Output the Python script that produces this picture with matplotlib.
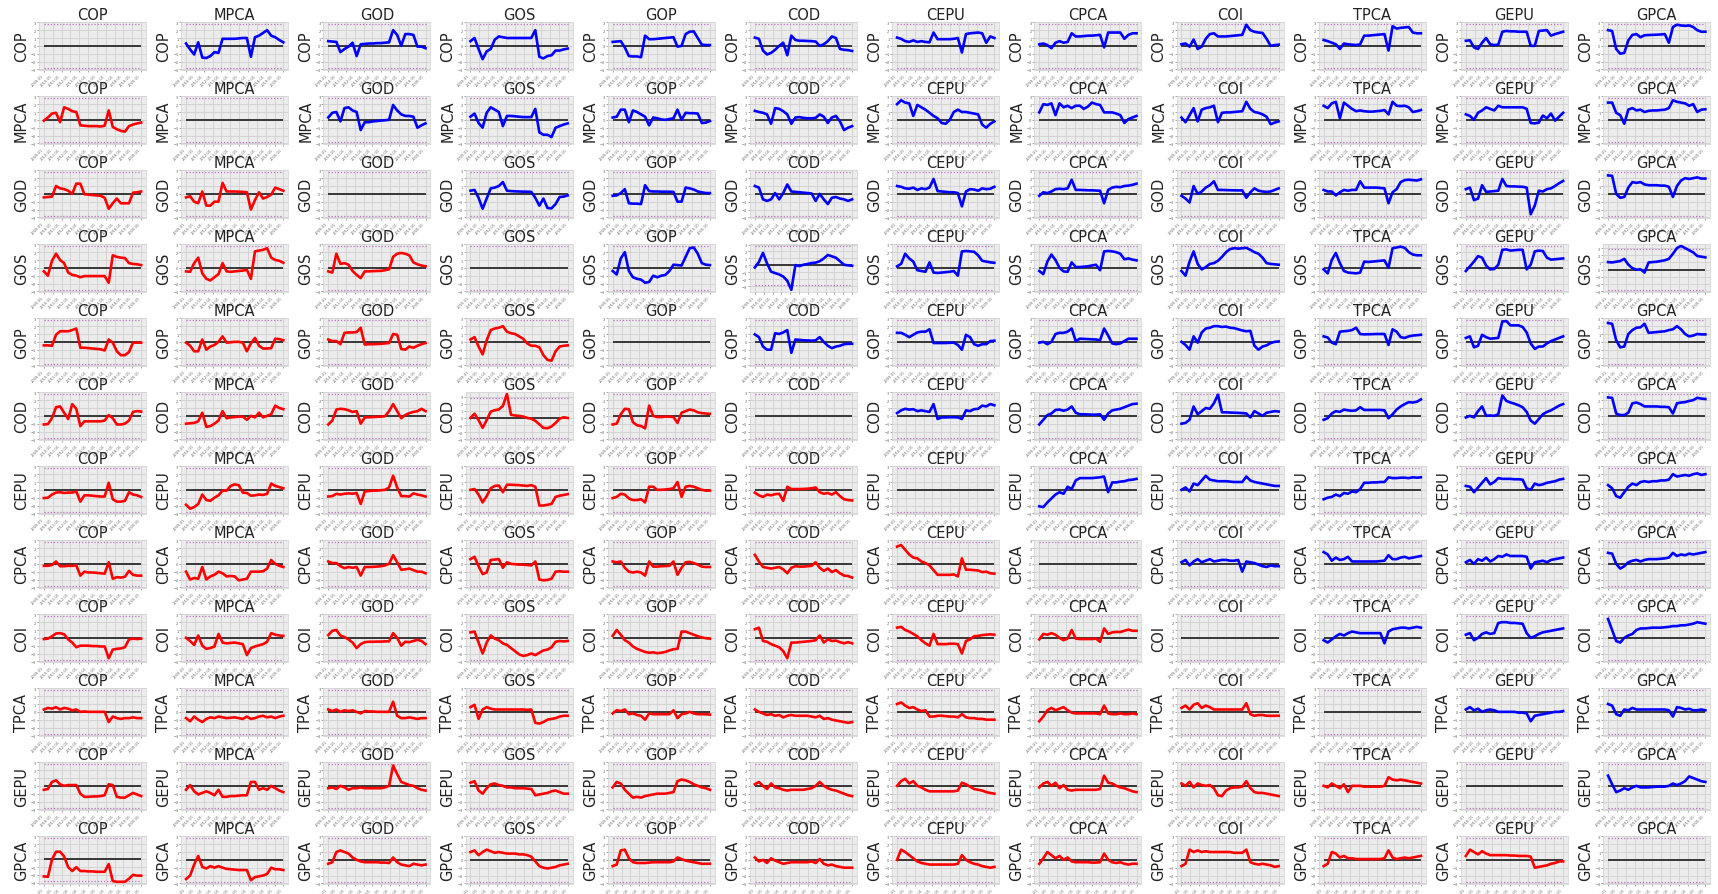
import numpy as np
import pandas as pd
import matplotlib
matplotlib.use("Agg")
import matplotlib.pyplot as plt
import matplotlib.dates as mdates
from matplotlib.ticker import MultipleLocator

names = ['COP', 'MPCA', 'GOD', 'GOS', 'GOP', 'COD', 'CEPU', 'CPCA', 'COI', 'TPCA', 'GEPU', 'GPCA']
dates = pd.date_range('2009-01-01', '2019-12-31', periods=25)
band = 2.8

# one list per row variable, one series per column variable (None on the diagonal)
cop_row = [
    None,
    [0.3,-0.45,-1.1,0.45,-1.5,-1.55,-1.3,-0.8,-0.9,0.9,0.9,0.9,0.9,0.95,1.0,1.0,-1.4,1.1,1.3,1.65,2.0,1.3,1.1,0.75,0.45],
    [0.6,0.55,0.5,-0.8,-0.4,-0.1,0.4,-1.3,0.2,0.25,0.3,0.3,0.35,0.35,0.4,0.45,2.0,1.4,0.0,1.5,1.5,1.4,-0.1,-0.1,-0.3],
    [0.6,1.0,-0.4,-1.7,-0.7,-0.4,0.8,1.2,1.1,1.0,1.0,1.0,1.0,1.0,1.0,1.0,2.0,-1.4,-1.6,-1.3,-1.2,-0.6,-0.6,-0.45,-0.35],
    [0.5,0.55,0.6,-0.2,-1.3,-1.35,-1.35,-1.45,1.3,0.85,0.85,0.9,0.95,1.0,1.05,1.1,-0.1,0.0,1.5,1.8,1.85,1.0,0.15,0.1,0.1],
    [1.05,0.9,-0.6,-1.1,-0.9,-0.5,0.0,0.4,-1.2,1.3,0.75,0.65,0.65,0.62,0.6,0.55,0.0,0.2,0.6,1.2,1.0,-0.4,-0.5,-0.55,-0.65],
    [1.05,0.9,0.6,0.5,0.7,0.5,0.6,0.5,0.45,1.7,0.85,0.85,0.85,0.85,0.9,1.0,-0.85,1.5,1.6,1.65,1.7,1.6,0.4,1.2,1.0],
    [0.2,0.3,0.1,-0.3,0.4,0.6,0.4,0.5,1.6,1.2,1.2,1.25,1.3,1.3,1.35,1.4,-0.2,1.7,1.7,1.7,1.7,0.9,1.4,1.6,1.6],
    [0.2,0.3,-0.1,0.8,-0.4,-0.1,0.9,1.5,1.6,1.2,1.2,1.2,1.25,1.3,1.35,1.4,2.7,2.0,1.8,1.7,1.65,0.9,0.0,0.1,0.15],
    [0.75,0.6,0.4,0.2,-0.4,0.3,0.2,0.15,0.1,0.2,1.3,1.3,1.35,1.4,1.45,1.5,-0.6,2.5,2.2,2.3,2.35,2.4,1.7,1.6,1.6],
    [0.65,0.7,-0.2,-0.4,0.4,1.0,0.2,0.1,0.15,1.8,1.9,1.85,1.85,1.8,1.8,1.8,0.0,0.0,1.9,1.95,2.0,1.3,1.5,1.65,1.8],
    [2.0,1.9,-0.4,-1.0,-0.9,0.7,1.4,1.5,1.1,1.35,1.38,1.4,1.42,1.45,1.5,0.4,2.4,2.7,2.6,2.55,2.6,2.4,2.0,1.8,1.8],
]
mpca_row = [
    [-0.1,0.3,0.8,0.9,-0.3,1.6,1.4,1.1,1.0,-0.7,-0.75,-0.8,-0.8,-0.8,-0.85,-0.75,1.2,-0.9,-1.2,-1.4,-1.5,-0.8,-0.6,-0.45,-0.35],
    None,
    [0.3,0.9,1.0,-0.2,1.5,1.6,1.2,1.0,-1.3,-0.3,-0.3,-0.2,-0.15,-0.1,-0.05,0.0,1.9,1.2,0.7,0.5,0.5,0.4,-1.0,-0.7,-0.45],
    [0.4,0.8,-0.4,-1.0,0.9,1.6,1.3,1.0,-0.8,0.5,0.5,0.45,0.4,0.35,0.35,0.35,1.4,-1.6,-1.9,-1.9,-2.2,-1.0,-0.8,-0.6,-0.45],
    [0.3,0.4,1.3,1.3,-0.3,1.2,1.0,0.7,0.4,-0.7,0.3,0.2,0.05,0.0,0.1,0.2,1.3,0.0,0.9,0.85,0.85,0.8,-0.4,-0.35,-0.15],
    [1.15,1.0,0.9,0.7,-0.5,1.5,1.4,1.1,0.7,-0.5,0.3,0.35,0.25,0.2,0.2,0.25,0.7,0.4,-0.4,0.3,0.5,-0.2,-1.3,-1.0,-0.8],
    [2.0,2.5,2.2,2.1,0.5,1.9,1.6,1.3,0.9,0.5,0.2,-0.4,-0.5,0.0,1.0,1.3,1.0,1.0,0.9,0.8,0.7,-0.6,-1.0,-0.5,-0.2],
    [0.95,2.0,1.9,2.1,0.6,2.1,1.6,1.8,1.5,1.8,1.8,1.4,1.7,2.2,2.0,1.9,0.95,0.95,0.95,0.8,0.6,-0.4,0.1,0.3,0.5],
    [0.3,-0.3,0.6,1.5,-0.2,1.3,1.5,1.6,1.8,-0.3,0.9,0.95,0.95,1.0,1.05,1.1,2.3,1.4,1.0,0.9,0.7,0.4,-0.55,-0.35,-0.2],
    [1.8,1.5,2.1,2.3,0.2,2.2,1.8,1.4,1.1,1.2,1.1,1.05,1.05,1.1,1.15,1.25,0.7,2.3,1.8,1.75,1.8,1.6,1.0,1.1,1.25],
    [0.7,0.5,0.0,0.9,1.2,1.6,1.4,1.2,1.8,1.6,1.6,1.6,1.6,1.6,1.6,1.4,-0.4,-0.45,-0.35,0.55,0.2,0.8,-0.1,0.4,0.9],
    [2.2,2.2,0.9,0.6,-0.5,1.3,1.5,1.2,1.3,1.0,1.15,1.2,1.2,1.25,1.3,1.5,2.5,2.3,2.2,2.1,1.8,2.0,1.0,1.3,1.35],
]
god_row = [
    [-0.45,-0.4,-0.35,1.0,0.7,0.6,0.4,0.0,1.3,1.3,-0.05,-0.1,-0.15,-0.2,-0.25,-0.5,-1.9,-1.2,-0.6,-1.2,-1.2,-1.2,0.15,0.2,0.3],
    [-0.45,-0.3,-1.0,-1.2,0.3,-1.5,-1.5,-1.0,-1.0,1.4,0.3,0.3,0.3,0.28,0.25,0.2,-2.0,-0.8,0.2,-0.6,-0.4,-0.1,0.8,0.6,0.4],
    None,
    [0.4,0.5,-0.5,-1.9,-0.6,0.7,0.8,1.0,1.5,0.4,0.35,0.32,0.3,0.28,0.27,0.25,-0.5,-1.5,-0.6,-1.8,-1.85,-1.3,-0.4,-0.35,-0.2],
    [-0.25,-0.2,0.1,0.6,-1.2,-1.25,-1.25,-1.3,1.1,0.35,0.3,0.3,0.28,0.27,0.27,0.25,-1.0,-1.0,0.8,0.7,0.55,0.3,0.2,0.1,0.1],
    [1.0,0.8,-0.7,-0.9,-0.7,0.1,-0.7,0.1,1.2,0.3,0.25,0.2,0.15,0.1,0.05,-0.9,0.0,-0.7,-1.3,-0.5,-0.4,-0.6,-0.7,-0.9,-0.7],
    [1.0,0.9,0.7,0.65,0.8,0.5,0.7,0.6,0.8,1.9,0.35,0.3,0.25,0.2,0.2,0.1,-1.6,0.3,0.6,0.55,0.4,0.7,0.6,0.65,0.9],
    [-0.25,0.2,0.1,0.3,0.6,0.65,0.6,0.7,1.8,0.5,0.5,0.48,0.45,0.45,0.42,0.4,-1.2,0.5,0.8,0.9,0.85,1.0,1.05,1.15,1.3],
    [-0.25,-0.6,-1.1,1.0,0.0,0.3,0.8,1.1,1.6,0.5,0.5,0.48,0.46,0.45,0.44,0.44,-0.5,0.2,0.7,0.4,0.3,0.25,0.3,0.5,0.7],
    [0.5,0.3,0.3,-0.2,0.2,0.5,0.4,0.5,0.5,1.6,0.8,0.8,0.8,0.8,0.75,0.7,-1.2,0.2,0.6,1.5,1.75,1.8,1.75,1.7,1.85],
    [0.6,0.8,-0.8,-0.6,1.1,0.25,0.3,0.35,0.4,1.9,1.0,0.95,0.95,0.92,0.9,0.8,-2.6,-1.5,0.4,0.3,0.6,0.7,1.0,1.35,1.65],
    [2.35,2.3,0.0,-0.5,-0.4,0.8,1.5,1.4,1.5,1.2,1.1,1.1,1.1,1.05,1.05,0.9,-0.4,1.0,1.7,2.0,1.9,2.0,2.1,1.95,1.95],
]
gos_row = [
    [-0.45,-1.0,0.9,1.8,1.0,0.6,-0.6,-0.9,-1.0,-1.2,-1.05,-1.05,-1.05,-1.05,-1.05,-1.05,-1.9,1.6,1.4,1.3,1.25,0.6,0.5,0.45,0.35],
    [-0.45,-0.5,0.6,1.3,-0.7,-1.4,-1.6,-1.2,-0.8,0.6,-0.45,-0.5,-0.45,-0.4,-0.35,-0.25,-1.4,2.1,2.2,2.3,2.5,1.3,1.0,0.9,0.65],
    [-0.45,-0.6,1.8,0.5,0.6,0.4,-0.4,-0.9,-1.3,-0.45,-0.45,-0.42,-0.4,-0.38,-0.3,-0.2,1.4,1.8,1.9,1.8,1.6,0.7,0.45,0.3,0.2],
    None,
    [-0.4,-0.85,1.2,2.0,-0.4,-1.2,-1.4,-1.5,-1.9,-1.8,-1.0,-1.2,-1.0,-0.9,-0.4,0.4,0.35,0.3,1.4,2.5,2.6,1.8,0.6,0.4,0.35],
    [-0.3,0.5,1.8,0.3,-0.9,-1.1,-1.3,-1.6,-2.2,-3.5,0.05,-0.1,0.1,0.2,0.35,0.4,0.6,1.0,1.5,1.3,1.1,0.6,0.1,0.0,-0.05],
    [0.2,0.5,1.8,1.2,0.8,-0.3,-0.4,-0.5,0.7,-0.6,-0.65,-0.6,-0.55,-0.5,-0.4,-1.0,2.1,2.15,2.1,2.05,1.6,0.9,0.8,0.7,0.65],
    [-0.4,-0.8,0.8,1.7,1.0,0.0,-0.45,-0.5,0.7,0.1,0.1,0.15,0.2,0.3,0.4,-0.3,2.1,2.15,2.1,2.0,1.8,1.1,1.2,1.05,0.95],
    [-0.4,-1.0,0.8,2.1,0.5,-0.2,0.1,0.5,0.6,0.9,1.4,2.0,2.4,2.5,2.45,2.5,2.55,2.3,2.0,1.8,1.3,0.6,0.5,0.45,0.4],
    [-0.2,-0.7,1.0,1.9,0.6,-0.4,-0.6,-0.65,-0.7,-0.6,0.8,0.75,0.8,0.85,0.9,0.95,0.0,2.5,2.6,2.7,2.55,2.0,1.7,1.6,1.6],
    [-0.4,0.2,0.8,1.5,1.3,0.3,-0.2,-0.15,0.4,2.3,2.35,2.2,2.25,2.3,2.3,-0.2,0.4,2.1,2.2,2.15,1.3,1.05,1.1,1.15,1.2],
    [1.05,1.0,1.1,1.2,1.5,0.7,0.2,0.0,0.05,-0.4,1.0,1.05,1.1,1.2,1.3,1.5,2.2,3.0,3.3,3.0,2.7,2.4,1.9,1.8,1.7],
]
gop_row = [
    [-0.45,-0.45,-0.5,0.9,1.35,1.35,1.35,1.5,1.7,-0.75,-0.75,-0.8,-0.85,-0.9,-0.95,-1.1,0.3,-0.1,-1.2,-1.7,-1.7,-1.3,-0.1,-0.1,-0.1],
    [-0.1,-0.5,-1.2,-1.2,0.3,-1.0,-0.6,-0.4,0.0,0.7,-0.1,-0.05,0.0,0.0,-0.1,-1.2,-0.2,0.5,-0.5,-0.85,-0.85,-0.8,0.4,0.35,0.2],
    [0.3,0.1,0.1,-0.3,1.15,1.2,1.2,1.25,1.8,-0.35,-0.3,-0.3,-0.28,-0.25,-0.2,-0.15,1.0,0.9,-0.9,-1.0,-0.6,-0.75,-0.5,-0.3,-0.15],
    [0.3,0.6,-0.6,-1.6,0.2,1.5,1.7,1.8,2.0,1.3,1.1,1.0,0.7,0.4,-0.2,-0.5,-0.5,-0.7,-1.7,-2.3,-2.4,-1.2,-0.6,-0.5,-0.45],
    None,
    [0.95,0.6,-0.6,-1.0,-1.0,1.1,1.0,1.2,1.5,-1.4,0.3,0.25,0.2,0.18,0.15,0.2,0.6,0.0,-0.5,-0.8,-0.6,-0.5,-0.3,-0.25,-0.25],
    [1.15,1.15,0.9,0.6,0.9,1.2,1.3,1.3,1.6,-0.15,-0.15,-0.15,-0.15,-0.12,-0.1,-0.4,-1.0,0.9,0.6,-0.3,-0.5,-0.3,-0.3,0.1,0.15],
    [-0.1,0.0,-0.3,0.0,1.0,1.15,1.15,1.3,1.7,0.1,0.4,0.38,0.35,0.32,0.3,0.2,1.7,0.8,-0.2,-0.3,-0.2,0.1,0.4,0.4,0.4],
    [0.0,-0.4,-1.0,0.7,-0.1,1.2,1.7,1.8,2.0,2.0,1.9,1.95,1.8,1.75,1.6,1.45,1.35,1.4,-0.5,-1.0,-0.6,-0.45,-0.15,0.0,0.05],
    [0.7,0.55,-0.1,-0.3,1.3,1.35,1.4,1.5,1.8,1.0,0.95,0.97,0.98,1.0,1.0,1.0,-0.4,1.6,1.3,0.6,0.5,0.7,0.8,0.85,0.9],
    [0.5,0.7,-0.7,-0.5,0.9,0.6,0.4,0.45,0.5,2.6,2.65,2.1,2.1,2.1,1.9,1.2,-0.2,-0.9,-0.6,-0.6,-0.2,0.1,0.3,0.5,0.7],
    [2.4,2.3,0.2,-0.7,-0.6,1.0,1.5,1.8,1.85,2.3,1.15,1.2,1.25,1.3,1.35,1.5,1.6,2.0,1.6,1.0,0.7,0.8,1.0,0.95,0.95],
]
cod_row = [
    [-1.1,-1.05,-0.3,1.1,1.2,0.4,-0.4,1.5,0.9,-1.3,-0.7,-0.7,-0.7,-0.7,-0.7,-0.6,0.1,-0.3,-1.1,-1.1,-1.0,-0.6,0.5,0.6,0.55],
    [-1.0,-0.95,-0.9,-0.7,0.4,-1.4,-1.3,-1.0,-0.6,0.6,-0.3,-0.2,-0.15,-0.1,-0.1,-0.5,0.0,-0.2,0.4,-0.2,0.0,0.2,1.3,1.0,0.85],
    [-1.1,-0.6,0.8,0.9,0.85,0.7,0.5,0.6,-1.0,-0.2,-0.18,-0.15,-0.12,-0.1,-0.05,0.6,1.5,0.6,-0.3,0.1,0.35,0.5,0.6,0.9,0.6],
    [0.0,0.6,-0.3,-1.4,-0.3,0.9,1.1,1.2,1.7,3.4,0.45,0.35,0.3,0.2,0.0,-0.1,-0.4,-0.9,-1.4,-1.45,-1.2,-0.7,-0.1,0.1,0.0],
    [-1.1,-1.0,0.2,0.9,0.85,-0.8,-1.2,-1.3,-1.6,1.3,0.0,-0.15,-0.15,-0.1,-0.1,-0.15,-0.9,0.4,0.6,0.8,0.7,0.45,0.35,0.3,0.25],
    None,
    [0.35,0.7,0.9,0.8,0.85,0.6,0.7,0.6,0.5,1.5,-0.4,-0.2,-0.2,-0.18,-0.18,-0.2,-0.4,0.7,0.6,0.85,0.9,1.3,1.2,1.5,1.35],
    [-1.1,-0.5,0.1,0.3,0.75,0.8,0.65,0.8,1.2,0.4,0.2,0.2,0.18,0.15,0.15,0.2,-0.5,0.3,0.7,0.8,0.9,1.1,1.3,1.5,1.55],
    [-1.0,-0.9,-0.5,1.2,0.2,0.6,1.0,0.9,1.6,2.7,0.45,0.45,0.42,0.4,0.38,0.35,0.3,-0.2,0.6,0.3,0.0,0.4,0.5,0.6,0.55],
    [-0.5,-0.3,0.3,0.6,0.5,0.8,0.7,0.65,0.7,1.1,0.75,0.75,0.75,0.75,0.75,0.7,-0.3,0.2,0.8,1.2,1.5,1.75,1.7,1.8,2.1],
    [-0.2,0.0,-0.2,0.6,1.2,0.0,0.05,0.0,0.2,2.6,1.9,1.7,1.55,1.35,1.1,0.5,-0.6,-1.0,-0.4,0.2,0.5,0.7,1.0,1.3,1.5],
    [2.35,2.3,0.3,0.1,0.1,0.4,1.6,1.7,1.5,1.2,1.2,1.2,1.2,1.15,1.15,1.1,0.3,1.6,1.7,1.75,1.9,2.0,2.3,2.2,2.15],
]
cepu_row = [
    [-1.05,-1.0,-0.6,-0.35,-0.3,-0.4,-0.35,-0.35,-0.2,-1.5,-0.7,-0.7,-0.75,-0.8,-0.85,-0.85,0.9,-1.2,-1.5,-1.5,-1.4,-0.3,-0.6,-0.7,-0.9],
    [-1.9,-2.4,-2.2,-1.8,-0.6,-1.3,-1.4,-1.0,-0.7,-0.1,-0.1,0.5,0.7,0.6,-0.35,-0.4,-0.75,-0.7,-0.6,-0.65,-0.5,0.8,0.5,0.35,0.2],
    [-0.85,-0.8,-0.5,-0.6,-0.5,-0.45,-0.5,-0.4,-1.8,-0.2,-0.15,-0.1,-0.1,-0.05,0.0,0.3,1.8,0.3,-0.8,-0.8,-0.85,-0.45,-0.6,-0.7,-0.85],
    [0.0,0.1,-0.6,-1.6,-0.8,0.2,0.5,0.55,-0.3,0.65,0.65,0.62,0.6,0.55,0.5,0.6,0.4,-2.0,-2.0,-1.9,-1.8,-0.9,-0.75,-0.65,-0.55],
    [-1.05,-0.9,-0.5,-0.6,-1.1,-1.3,-1.3,-1.2,-1.6,0.4,0.4,0.0,0.0,0.05,0.1,0.2,1.0,-0.9,0.4,0.5,0.4,0.2,0.0,-0.1,-0.1],
    [-0.35,-0.7,-0.9,-0.6,-0.7,-0.55,-0.5,-1.4,0.4,0.1,0.1,0.1,0.12,0.15,0.2,0.3,-0.3,-0.5,-0.4,-0.6,-0.3,-0.8,-1.2,-1.3,-1.35],
    None,
    [-2.1,-2.2,-1.6,-1.1,-0.6,-0.3,-0.5,0.4,0.1,1.2,1.5,1.5,1.5,1.5,1.55,1.6,1.7,-0.3,0.95,0.95,1.05,1.1,1.25,1.3,1.4],
    [0.0,0.3,-0.2,0.8,0.6,1.2,1.8,1.3,1.2,1.1,1.1,1.1,1.05,1.0,1.0,1.0,1.7,1.2,1.0,0.9,0.8,0.7,0.6,0.5,0.5],
    [-1.2,-1.0,-0.9,-0.6,-0.8,-0.4,-0.5,-0.2,-0.3,0.1,0.9,0.9,0.95,0.95,1.0,1.0,1.6,1.5,1.5,1.55,1.55,1.5,1.6,1.55,1.6],
    [0.5,0.4,-0.3,0.3,0.9,1.5,0.7,1.0,1.5,1.4,1.4,1.4,1.35,1.35,1.3,0.2,0.0,0.8,0.6,0.7,0.9,1.0,1.1,1.3,1.4],
    [0.6,0.2,-0.8,-1.0,-0.3,0.4,0.8,0.6,1.0,1.1,1.0,1.1,1.1,1.2,1.2,1.3,2.0,1.7,1.8,1.9,1.8,2.0,2.1,1.9,2.0],
]
cpca_row = [
    [-0.25,-0.25,-0.15,0.3,-0.3,-0.3,-0.25,-0.25,-0.2,-1.5,-1.0,-1.1,-1.1,-1.15,-1.2,-1.25,0.2,-1.9,-1.7,-1.75,-1.65,-0.9,-1.4,-1.5,-1.5],
    [-1.0,-2.0,-1.8,-1.9,-0.4,-2.0,-1.6,-1.4,-1.0,-1.2,-1.6,-1.55,-1.6,-2.1,-2.0,-1.9,-1.0,-1.0,-1.0,-0.95,-0.6,0.5,0.0,-0.25,-0.4],
    [0.3,0.1,0.1,-0.3,-0.55,-0.4,-0.5,-0.4,-1.5,-0.4,-0.4,-0.38,-0.35,-0.3,-0.2,0.0,1.1,0.2,-0.75,-0.7,-0.6,-0.8,-1.0,-1.0,-1.2],
    [0.6,0.9,-0.3,-1.3,-1.1,0.5,0.55,0.6,-0.5,0.2,0.0,-0.05,-0.1,-0.1,-0.15,-0.2,0.3,-2.0,-2.1,-2.05,-1.9,-1.0,-0.95,-1.0,-1.0],
    [0.3,0.2,0.3,-0.5,-1.0,-1.1,-1.0,-1.1,-1.5,0.3,-0.35,-0.35,-0.3,-0.28,-0.25,0.3,-1.4,-0.5,0.2,0.25,0.1,-0.1,-0.35,-0.4,-0.4],
    [1.15,0.3,-0.4,-0.5,-0.6,-0.5,-0.4,-0.7,-1.2,-0.5,-0.3,-0.35,-0.35,-0.3,-0.25,0.2,-0.5,-0.9,-0.6,-1.05,-0.8,-1.2,-1.5,-1.55,-1.75],
    [2.2,2.4,1.8,1.2,0.8,0.7,0.3,0.1,-0.2,-0.8,-1.4,-1.4,-1.4,-1.4,-1.35,-1.6,0.7,-0.75,-0.75,-0.8,-0.85,-1.05,-1.0,-1.2,-1.25],
    None,
    [0.2,0.5,-0.2,0.3,0.6,0.2,0.4,0.6,0.3,0.4,0.5,0.5,0.4,0.4,0.5,-1.0,0.3,0.2,0.1,-0.1,-0.3,-0.4,-0.2,-0.3,-0.3],
    [1.5,1.2,0.4,0.8,0.5,0.6,0.9,0.3,0.3,0.3,0.3,0.3,0.3,0.3,0.35,0.4,1.1,0.6,0.6,0.8,0.9,0.7,0.8,0.9,1.0],
    [0.2,0.5,0.0,0.6,0.4,0.8,0.3,0.6,1.0,0.9,1.2,1.0,1.0,1.0,1.0,0.9,-0.6,0.2,0.3,0.4,0.2,0.5,0.6,0.7,0.8],
    [1.4,1.3,0.0,-0.6,-0.3,0.2,0.4,0.5,0.3,0.5,0.6,0.6,0.6,0.65,0.7,0.8,1.4,1.0,1.2,1.1,1.3,1.2,1.3,1.4,1.5],
]
coi_row = [
    [-0.15,-0.1,0.2,0.55,0.6,0.45,-0.2,-0.6,-1.2,-1.0,-1.0,-1.0,-1.05,-1.05,-1.1,-1.1,-2.6,-1.5,-1.4,-1.35,-1.2,-0.2,-0.1,-0.15,-0.1],
    [0.0,-0.4,-0.9,0.3,-1.0,-1.4,-1.3,-1.1,0.5,-0.6,-0.7,-0.65,-0.6,-0.7,-0.8,-2.2,-1.3,-1.1,-0.95,-0.8,-0.5,0.6,0.4,0.3,0.25],
    [0.35,0.9,1.0,0.3,0.1,-0.2,-0.6,-1.3,-0.8,-0.55,-0.5,-0.5,-0.48,-0.48,-0.45,-0.45,0.6,0.0,-1.0,-0.5,-0.55,-0.4,-0.25,-0.4,-0.8],
    [0.7,0.8,-0.6,-2.0,-0.6,0.3,-0.1,-0.3,-0.7,-0.9,-1.3,-1.7,-2.1,-2.3,-2.2,-2.0,-2.2,-1.9,-1.6,-1.5,-1.2,-0.5,-0.4,-0.45,-0.4],
    [0.25,1.0,0.4,-0.3,-0.6,-1.1,-1.4,-1.6,-1.8,-1.9,-1.85,-1.95,-1.9,-1.8,-1.6,-1.45,-1.4,0.8,0.8,0.6,0.4,0.2,0.05,-0.05,-0.1],
    [1.1,1.3,-0.4,-0.5,-0.8,-1.0,-1.2,-1.7,-2.6,-0.6,-0.6,-0.55,-0.5,-0.45,-0.4,-0.3,0.3,-0.6,-0.2,-0.4,-0.35,-0.55,-0.7,-0.55,-0.7],
    [1.3,1.4,1.0,0.8,0.5,0.2,-0.3,-0.7,-1.0,0.5,-0.8,-0.8,-0.8,-0.75,-0.75,-0.8,-2.0,-0.4,-0.2,0.2,0.25,0.35,0.4,0.45,0.4],
    [-0.2,0.5,0.4,0.6,0.4,0.0,-0.3,-0.1,1.0,-0.1,-0.15,-0.15,-0.15,-0.15,-0.1,-0.5,1.2,0.5,0.7,0.75,0.75,0.9,1.05,0.9,0.9],
    None,
    [-0.3,-0.6,-0.2,0.2,0.5,0.3,0.6,0.8,0.7,0.6,0.6,0.6,0.6,0.6,0.6,-0.7,0.8,1.1,1.2,1.3,1.3,1.2,1.3,1.4,1.3],
    [0.4,0.6,-0.3,0.0,0.5,0.7,0.5,0.6,1.9,2.0,2.0,1.9,1.9,1.85,1.8,0.6,0.0,0.2,0.5,0.7,0.8,0.9,1.0,1.1,1.2],
    [2.4,1.0,-0.4,-0.6,0.0,0.3,0.5,1.0,1.2,1.2,1.25,1.3,1.3,1.3,1.35,1.4,1.5,1.5,1.6,1.6,1.7,1.8,2.0,1.9,1.8],
]
tpca_row = [
    [0.3,0.5,0.4,0.6,0.3,0.5,0.4,0.2,0.3,0.0,0.05,0.0,0.0,0.0,0.0,0.0,-1.3,-0.6,-0.8,-0.9,-0.8,-0.8,-0.7,-0.8,-0.8],
    [-0.8,-1.2,-0.6,-1.0,-1.3,-0.9,-0.7,-0.8,-0.6,-0.7,-0.8,-0.75,-0.7,-0.8,-0.9,-0.6,-0.9,-0.8,-0.6,-0.5,-0.7,-0.6,-0.8,-0.6,-0.5],
    [0.3,0.1,0.3,0.0,0.2,0.1,0.2,0.0,-0.2,0.1,0.05,0.05,0.0,0.0,0.0,0.0,1.3,-0.5,-0.8,-0.8,-0.7,-0.8,-0.9,-0.8,-0.8],
    [0.6,0.9,-0.9,0.3,0.6,0.4,0.3,0.3,0.3,0.3,0.3,0.3,0.3,0.3,0.25,0.3,-1.4,-1.5,-1.3,-1.0,-0.9,-0.8,-0.6,-0.5,-0.5],
    [-0.2,0.2,0.1,0.3,-0.3,-0.2,-0.4,-0.5,-1.0,-0.2,-0.3,-0.3,-0.3,-0.3,-0.3,0.2,-0.8,-0.3,-0.2,0.0,-0.2,-0.3,-0.3,-0.3,-0.35],
    [0.3,0.0,-0.2,-0.4,-0.3,-0.5,-0.4,-0.7,-0.5,-0.4,-0.5,-0.5,-0.5,-0.5,-0.6,-0.7,-0.5,-0.9,-0.8,-1.0,-1.1,-1.2,-1.3,-1.4,-1.3],
    [1.0,1.2,0.8,0.5,0.6,0.3,0.1,0.2,-0.6,-0.6,-0.5,-0.5,-0.55,-0.6,-0.6,-0.7,-0.3,-0.7,-0.8,-0.8,-0.9,-0.9,-1.0,-1.0,-1.0],
    [-1.2,-0.6,0.2,0.5,0.2,0.4,0.6,0.2,-0.1,-0.2,-0.2,-0.2,-0.2,-0.2,-0.2,-0.3,0.8,-0.2,-0.3,-0.3,-0.2,-0.3,-0.3,-0.2,-0.3],
    [0.5,0.8,0.3,0.9,1.1,0.5,0.8,0.6,0.3,0.3,0.3,0.3,0.3,0.3,0.3,0.3,1.1,-0.3,-0.5,-0.4,-0.4,-0.5,-0.5,-0.5,-0.5],
    None,
    [0.3,0.6,0.2,0.4,0.0,0.2,0.3,0.2,0.0,0.0,0.0,0.0,0.0,-0.1,-0.1,-0.2,-1.2,-0.5,-0.4,-0.3,-0.2,-0.1,0.0,0.0,0.1],
    [1.0,0.8,-0.3,-0.5,0.3,0.2,0.5,0.3,0.3,0.3,0.3,0.3,0.3,0.3,0.3,0.2,-0.6,0.6,0.5,0.3,0.4,0.2,0.2,0.3,0.2],
]
gepu_row = [
    [-0.5,-0.4,0.5,0.7,0.2,0.0,0.1,0.1,0.1,-1.0,-1.4,-1.4,-1.35,-1.35,-1.3,-1.2,0.2,0.1,-1.4,-1.5,-1.5,-1.2,-0.9,-1.1,-1.3],
    [-0.5,0.1,-0.7,-1.1,-0.9,-0.7,-0.9,-1.2,-0.5,-1.4,-1.4,-1.3,-1.3,-1.25,-1.2,-1.2,0.5,0.5,-0.5,-0.3,-0.5,0.0,-0.3,-0.6,-0.8],
    [-0.3,-0.2,-0.4,0.0,-0.2,-0.5,-0.3,-0.3,-0.2,-0.3,-0.3,-0.3,-0.3,-0.3,-0.2,0.0,2.6,1.5,0.5,0.3,0.1,0.0,-0.3,-0.5,-0.6],
    [0.4,0.6,-0.6,-1.0,-0.3,0.2,0.3,0.1,0.0,-0.2,-0.2,-0.3,-0.3,-0.3,-0.35,-0.4,-1.2,-1.1,-1.0,-0.9,-0.7,-0.6,-0.8,-1.0,-1.0],
    [-0.2,0.5,0.3,-0.5,-1.0,-1.5,-1.4,-1.5,-1.3,-1.2,-1.1,-1.0,-1.0,-1.0,-0.9,-0.8,0.6,0.8,0.7,0.5,0.2,0.0,-0.2,-0.3,-0.5],
    [0.2,0.5,0.0,-0.4,0.3,-0.2,-0.3,-0.5,-0.6,-0.5,-0.5,-0.5,-0.5,-0.4,-0.3,0.0,0.5,0.0,-0.3,-0.5,-0.6,-0.8,-1.0,-1.2,-1.3],
    [0.0,0.6,0.9,0.3,0.6,0.0,-0.2,-0.5,-0.7,-0.7,-0.7,-0.7,-0.7,-0.7,-0.7,-0.6,0.4,0.2,-0.1,-0.4,-0.5,-0.6,-0.8,-0.9,-1.0],
    [-0.2,0.3,0.5,0.0,0.4,-0.3,0.1,-0.5,-0.6,-0.5,-0.5,-0.5,-0.5,-0.5,-0.5,-0.4,1.3,0.4,0.3,0.0,-0.2,-0.3,-0.5,-0.7,-0.8],
    [0.3,0.0,0.5,-0.2,0.3,0.1,0.0,0.1,-0.3,-1.2,-1.3,-0.6,-0.3,-0.2,-0.2,-0.1,0.6,-0.3,-0.8,-0.9,-0.9,-1.0,-1.1,-1.2,-1.3],
    [0.0,-0.2,0.3,0.0,-0.3,0.2,-0.8,0.0,0.0,0.0,-0.1,-0.1,-0.1,-0.1,-0.1,0.0,1.1,0.8,0.7,0.8,0.7,0.6,0.5,0.4,0.3],
    None,
    [1.3,0.2,-0.8,-0.6,-0.3,-0.5,-0.2,0.0,-0.2,-0.2,-0.2,-0.15,-0.1,-0.1,-0.1,0.0,0.3,0.1,0.3,0.6,1.2,1.0,0.8,0.6,0.5],
]
gpca_row = [
    [-2.2,-2.25,0.0,1.0,1.0,0.4,-1.0,-1.5,-1.0,-1.5,-1.5,-1.55,-1.55,-1.6,-1.6,-1.6,-0.6,-2.8,-2.9,-2.9,-2.9,-2.5,-2.0,-2.1,-2.1],
    [-2.45,-2.0,-0.6,0.5,-0.9,-1.1,-0.8,-1.0,-0.8,-1.0,-1.15,-1.2,-1.25,-1.3,-1.3,-1.3,-2.6,-2.2,-2.1,-2.0,-1.8,-1.0,-1.2,-1.2,-1.3],
    [-0.5,-0.3,1.0,1.2,1.0,0.8,0.3,0.0,-0.2,-0.3,-0.3,-0.3,-0.3,-0.35,-0.35,-0.4,0.3,-0.3,-0.6,-0.7,-0.8,-0.5,-0.6,-0.7,-0.6],
    [1.0,1.2,0.6,1.0,1.3,1.1,0.9,1.0,0.9,0.8,0.8,0.8,0.7,0.7,0.6,0.4,-0.2,-0.8,-1.0,-1.1,-1.0,-0.9,-0.7,-0.6,-0.5],
    [-0.8,-0.6,1.2,1.3,0.2,-0.3,-0.4,-0.4,-0.4,-0.35,-0.3,-0.3,-0.3,-0.3,-0.3,-0.2,0.3,0.1,-0.1,-0.2,-0.3,-0.4,-0.5,-0.5,-0.5],
    [0.3,-0.2,0.0,-0.4,0.2,-0.1,-0.3,-0.5,-0.4,-0.3,-0.3,-0.3,-0.3,-0.3,-0.2,-0.4,0.1,-0.5,-0.7,-0.6,-0.8,-0.9,-1.0,-1.0,-1.0],
    [0.0,1.3,1.0,0.6,0.2,-0.2,-0.4,-0.5,-0.6,-0.6,-0.6,-0.6,-0.6,-0.6,-0.6,-0.5,0.6,0.0,-0.3,-0.5,-0.6,-0.8,-0.9,-1.0,-0.9],
    [-0.5,0.2,1.0,0.6,0.2,0.5,0.0,0.3,-0.2,-0.3,-0.3,-0.3,-0.3,-0.35,-0.35,-0.3,0.8,0.0,-0.3,-0.4,-0.3,-0.5,-0.6,-0.5,-0.5],
    [-0.8,-0.5,1.3,1.0,1.2,1.0,1.1,1.0,1.0,1.0,1.0,1.0,1.0,0.9,0.9,0.9,1.3,-0.3,-0.5,-0.6,-0.5,-0.6,-0.7,-0.9,-0.8],
    [-0.8,-0.5,1.0,0.8,0.3,0.5,0.2,0.2,0.1,0.1,0.1,0.1,0.1,0.1,0.1,0.2,1.2,0.3,0.1,0.2,0.3,0.2,0.3,0.4,0.5],
    [0.5,1.3,1.0,0.7,1.1,0.8,0.6,0.6,0.6,0.6,0.6,0.55,0.55,0.5,0.5,0.5,0.4,-1.0,-0.9,-0.8,-0.7,-0.5,-0.4,-0.2,-0.2],
    None,
]

rows = [cop_row, mpca_row, god_row, gos_row, gop_row, cod_row,
        cepu_row, cpca_row, coi_row, tpca_row, gepu_row, gpca_row]

W, H = 1718, 895
fig = plt.figure(figsize=(W / 100, H / 100), dpi=100)

for i in range(12):
    for j in range(12):
        left = 39 + 142.2 * j
        top = 22.7 + 74 * i
        ax = fig.add_axes([left / W, 1 - (top + 48.3) / H, 107 / W, 48.3 / H])
        ax.set_facecolor('#ececec')
        for s in ax.spines.values():
            s.set_color('#d6d6d6')
            s.set_linewidth(0.6)
        ax.grid(True, color='#d0d0d0', linewidth=0.6)
        ax.set_axisbelow(True)

        vals = rows[i][j]
        ax.hlines([band, -band], dates[0], dates[-1], colors='#c070c8',
                  linestyles=(0, (1, 1.5)), linewidth=0.9)
        ax.hlines(0, dates[0], dates[-1], colors='#2a2a2a', linewidth=1.3)
        lo, hi = -band, band
        if vals is not None:
            col = 'blue' if j > i else 'red'
            ax.plot(dates, vals, color=col, linewidth=1.9)
            lo = min(lo, min(vals))
            hi = max(hi, max(vals))
        pad = 0.05 * (hi - lo)
        ax.set_ylim(lo - pad, hi + pad)
        ax.set_xlim(dates[0] - (dates[-1] - dates[0]) * 0.05,
                    dates[-1] + (dates[-1] - dates[0]) * 0.05)

        ax.yaxis.set_major_locator(MultipleLocator(1))
        ax.xaxis.set_major_locator(mdates.YearLocator())
        ax.xaxis.set_major_formatter(mdates.DateFormatter('%Y-%m'))
        ax.tick_params(labelsize=2.6, length=1.2, width=0.4, pad=0.8,
                       colors='#666666')
        for lab in ax.get_xticklabels():
            lab.set_rotation(45)
            lab.set_ha('right')

        ax.set_title(names[j], fontsize=10.5, pad=2, color='#222222')
        ax.set_ylabel(names[i], fontsize=10.5, labelpad=1.5, color='#222222')

fig.savefig('out.png', dpi=100)
